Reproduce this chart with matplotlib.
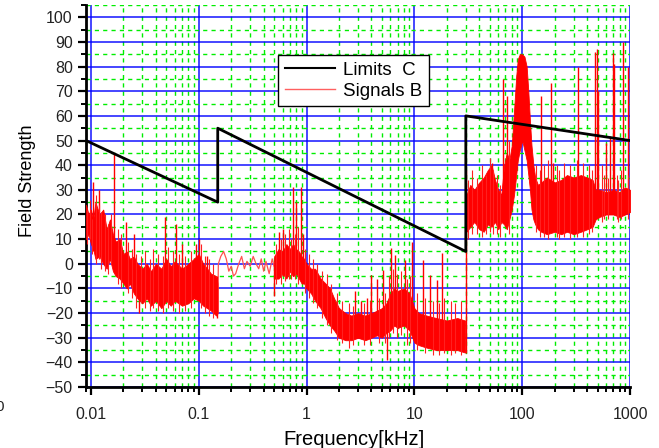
import matplotlib
matplotlib.use('Agg')
import matplotlib.pyplot as plt
from matplotlib.lines import Line2D
from matplotlib.ticker import LogLocator, MultipleLocator, FuncFormatter

plt.rcParams['font.family'] = ['Liberation Sans', 'DejaVu Sans']

# Limit line (black)
limit_f = [0.009, 0.15, 0.15, 30, 30, 1000]
limit_v = [50, 25, 55, 5, 60, 50]

# Dense measured noise: upper / lower envelope, part 1 (0.009 - 0.15 kHz)
band1_f = [0.009, 0.0095, 0.010, 0.0105, 0.011, 0.012, 0.013, 0.014, 0.015, 0.016,
           0.017, 0.0185, 0.020, 0.0215, 0.023, 0.025, 0.027, 0.030, 0.033, 0.036,
           0.040, 0.045, 0.050, 0.055, 0.060, 0.070, 0.080, 0.090, 0.100, 0.110,
           0.120, 0.130, 0.145, 0.150]
band1_hi = [24, 20, 22, 18, 25, 20, 22, 14, 18, 12,
            9, 10, 4, 5, 2, 3, 0, -2, 0, -3,
            0, -2, 2, -1, 1, -2, 0, 2, 4, 0,
            -2, -4, -5, -8]
band1_lo = [10, 12, 8, 6, 2, 3, 0, -2, 2, -3,
            -5, -6, -8, -10, -8, -12, -14, -16, -14, -17,
            -15, -18, -15, -17, -15, -17, -16, -14, -15, -17,
            -18, -19, -21, -20]

# Thin trace between 0.15 and 0.5 kHz
thin_f = [0.15, 0.152, 0.16, 0.17, 0.18, 0.19, 0.20, 0.21, 0.22, 0.235, 0.25, 0.265,
          0.28, 0.30, 0.32, 0.34, 0.36, 0.38, 0.40, 0.42, 0.45, 0.48, 0.50]
thin_v = [-20, 0, 3, 5, 2, -3, -1, -5, -4, 0, 3, -2,
          1, -1, 3, 0, -2, 2, -3, 1, -4, 2, -1]

# part 2 (0.5 - 29.5 kHz)
band2_f = [0.50, 0.55, 0.60, 0.65, 0.70, 0.75, 0.80, 0.85, 0.90, 0.95,
           1.0, 1.1, 1.2, 1.35, 1.5, 1.65, 1.8, 2.0, 2.3, 2.6,
           3.0, 3.5, 4.0, 4.5, 5.0, 5.5, 6.0, 6.5, 7.0, 8.0,
           9.0, 10.0, 11.0, 13.0, 16.0, 20.0, 25.0, 29.5]
band2_hi = [3, 6, 5, 8, 6, 8, 6, 5, 3, 2,
            0, -2, -2, -6, -8, -10, -14, -18, -20, -21,
            -20, -21, -20, -19, -18, -16, -12, -10, -11, -10,
            -12, -18, -20, -21, -22, -23, -22, -23]
band2_lo = [-6, -6, -4, -6, -3, -5, -4, -6, -8, -8,
            -10, -12, -15, -18, -22, -25, -27, -30, -31, -31,
            -30, -31, -30, -29, -30, -28, -27, -25, -26, -25,
            -27, -32, -33, -34, -35, -35, -35, -36]

# part 3 (30 - 1000 kHz)
band3_f = [30.5, 33, 36, 40, 44, 48, 52, 56, 60, 64,
           68, 72, 76, 80, 84, 88, 91, 95, 100, 105,
           110, 114, 118, 122, 127, 132, 140, 150, 170, 200,
           230, 260, 300, 350, 400, 450, 480, 520, 600, 700,
           800, 900, 1000]
band3_hi = [28, 32, 30, 33, 35, 38, 40, 34, 30, 28,
            40, 45, 42, 48, 62, 76, 83, 85, 85, 84,
            80, 70, 58, 48, 40, 35, 32, 33, 35, 33,
            34, 36, 35, 36, 35, 34, 30, 30, 29, 30,
            29, 31, 30]
band3_lo = [13, 15, 17, 14, 13, 16, 15, 17, 14, 17,
            16, 14, 18, 22, 28, 36, 42, 46, 50, 46,
            42, 36, 30, 22, 18, 16, 14, 13, 12, 13,
            12, 13, 12, 13, 14, 15, 18, 19, 20, 20,
            19, 20, 21]

# Narrow spikes: frequency, top, bottom
spike_f = [0.0105, 0.012, 0.0165, 0.021, 0.025, 0.028, 0.049, 0.061, 0.07, 0.095,
           0.10, 0.12, 0.148,
           0.50, 0.55, 0.60, 0.75, 0.80, 0.88, 0.92,
           2.83, 3.2, 3.6, 4.0, 4.5, 5.1, 5.6, 6.1, 6.6, 8.1,
           9.6, 11.9, 13.9, 16.3, 17.9, 30.0,
           52, 66.4, 71.6, 150, 184.5, 193, 326, 470, 490, 510,
           603, 650, 690, 710, 865, 950]
spike_top = [33, 30, 45, 17, 12, -5, 19, 16, 8, 8,
             10, 3, -5,
             0, 13, 14, 31, 25, 31, 12,
             -11, -15, -14, -4.5, -6, -2.5, -20, 6.5, 3.6, 1.6,
             9, 1.6, -4.5, -6.5, 4.5, 38,
             41, 75, 68, 68, 73.5, 41, 80, 86, 87, 70,
             49, 52, 85.5, 81, 90, 80]
spike_bot = [5, 5, 5, -5, -8, -20, -10, -8, -10, -10,
             -12, -10, -22,
             -13, -5, -5, -5, -3, -5, -5,
             -25, -28, -28, -25, -25, -25, -39, -20, -20, -20,
             -25, -25, -25, -25, -25, -36,
             20, 20, 20, 20, 20, 15, 20, 20, 20, 20,
             20, 20, 20, 20, 20, 20]

# Short noise peaks around the envelope edges
grass_f = [0.0092, 0.0098, 0.0102, 0.0112, 0.0118, 0.0125, 0.0135, 0.0145, 0.0155, 0.018,
           0.019, 0.022, 0.024, 0.026, 0.029, 0.032, 0.035, 0.038, 0.042, 0.047,
           0.052, 0.058, 0.065, 0.075, 0.085, 0.105, 0.115, 0.125, 0.135,
           0.52, 0.58, 0.63, 0.68, 0.72, 0.78, 0.83, 0.97, 1.05, 1.15,
           1.25, 1.4, 1.55, 1.7, 1.9, 2.15, 2.45, 2.7, 3.4, 3.9,
           4.7, 5.3, 5.8, 6.3, 6.9, 7.5, 8.5, 9.2, 10.5, 12.5,
           14.8, 17, 19, 22, 24, 27,
           31.5, 34.5, 38, 42, 46, 50, 54, 58, 62, 75,
           135, 145, 160, 175, 210, 220, 245, 280, 320, 370,
           420, 440, 550, 580, 630, 750, 780, 830, 960]
grass_top = [22, 26, 18, 28, 24, 21, 20, 16, 20, 14,
             12, 9, 6, 4, 3, 5, 2, 6, 4, 3,
             7, 5, 4, 3, 5, 8, 3, 2, 0,
             8, 10, 12, 14, 10, 12, 15, 6, 4, 2,
             0, -3, -4, -8, -12, -15, -16, -17, -16, -15,
             -14, -12, -5, -2, -4, -3, -6, -5, -12, -14,
             -15, -16, -14, -15, -16, -15,
             34, 38, 35, 40, 36, 43, 38, 36, 32, 50,
             40, 38, 40, 42, 40, 38, 41, 40, 42, 41,
             40, 38, 40, 36, 35, 36, 34, 38, 36]
grass_bot = [8, 10, 4, 0, 2, -2, -3, -4, 0, -8,
             -10, -12, -14, -18, -16, -18, -19, -18, -19, -20,
             -18, -19, -20, -19, -18, -18, -20, -21, -22,
             -8, -8, -7, -6, -6, -6, -8, -12, -14, -16,
             -18, -22, -25, -28, -31, -32, -34, -33, -33, -33,
             -32, -32, -30, -28, -30, -29, -33, -32, -35, -36,
             -37, -37, -36, -37, -36, -37,
             10, 12, 12, 11, 12, 13, 12, 12, 11, 12,
             13, 11, 11, 10, 11, 10, 11, 10, 11, 11,
             12, 13, 17, 18, 18, 18, 17, 18, 18]

fig = plt.figure(figsize=(6.59, 4.48), dpi=100)
ax = fig.add_axes([0.1305, 0.136, 0.8255, 0.853])

red = '#ff0000'
for bf, bh, bl in [(band1_f, band1_hi, band1_lo),
                   (band2_f, band2_hi, band2_lo),
                   (band3_f, band3_hi, band3_lo)]:
    ax.fill_between(bf, bl, bh, color=red, lw=0.6, zorder=3)
ax.plot(thin_f, thin_v, color='#ff5050', lw=0.9, zorder=3)
ax.vlines(spike_f, spike_bot, spike_top, color=red, lw=1.0, zorder=3)
ax.vlines(grass_f, grass_bot, grass_top, color='#ff2020', lw=0.8, zorder=3)

ax.plot(limit_f, limit_v, color='black', lw=2, zorder=4)

ax.set_xscale('log')
ax.set_xlim(0.009, 1000)
ax.set_ylim(-50, 105)

ax.xaxis.set_major_locator(LogLocator(base=10, numticks=10))
ax.xaxis.set_minor_locator(LogLocator(base=10, subs=range(2, 10), numticks=20))
ax.xaxis.set_major_formatter(FuncFormatter(lambda v, p: '%g' % v))
ax.yaxis.set_major_locator(MultipleLocator(10))
ax.yaxis.set_minor_locator(MultipleLocator(5))

ax.grid(True, which='major', color='#0000ff', lw=1.2, alpha=0.85, zorder=0)
ax.grid(True, which='minor', color='#00ee00', lw=1, ls=(0, (3, 3)), zorder=0)
ax.set_axisbelow(True)

for s in ['top', 'right']:
    ax.spines[s].set_visible(False)
for s in ['left', 'bottom']:
    ax.spines[s].set_linewidth(2)

ax.tick_params(which='major', direction='out', length=6, width=1.6, labelsize=11.5, colors='black')
ax.tick_params(which='minor', direction='out', length=3.5, width=1.4)
ax.tick_params(axis='x', which='major', pad=8)
for t in ax.get_xticklabels() + ax.get_yticklabels():
    t.set_color('#222222')

ax.set_xlabel('Frequency[kHz]', fontsize=14.5)
ax.set_ylabel('Field Strength', fontsize=13)
ax.xaxis.set_label_coords(0.493, -0.112)
ax.yaxis.set_label_coords(-0.092, 0.54)

handles = [Line2D([], [], color='black', lw=1.5),
           Line2D([], [], color='#ff6060', lw=1)]
leg = ax.legend(handles, ['Limits  C', 'Signals B'], loc='upper left',
                bbox_to_anchor=(0.336, 0.893), fontsize=13.5, fancybox=False,
                framealpha=1, edgecolor='black', handlelength=2.7,
                handletextpad=0.4, borderpad=0.35, labelspacing=0.2)
leg.get_frame().set_linewidth(1)
leg.set_zorder(5)

fig.text(0.0, 0.082, '0', ha='center', fontsize=11, color='#222222')

fig.savefig('out.png', dpi=100)
